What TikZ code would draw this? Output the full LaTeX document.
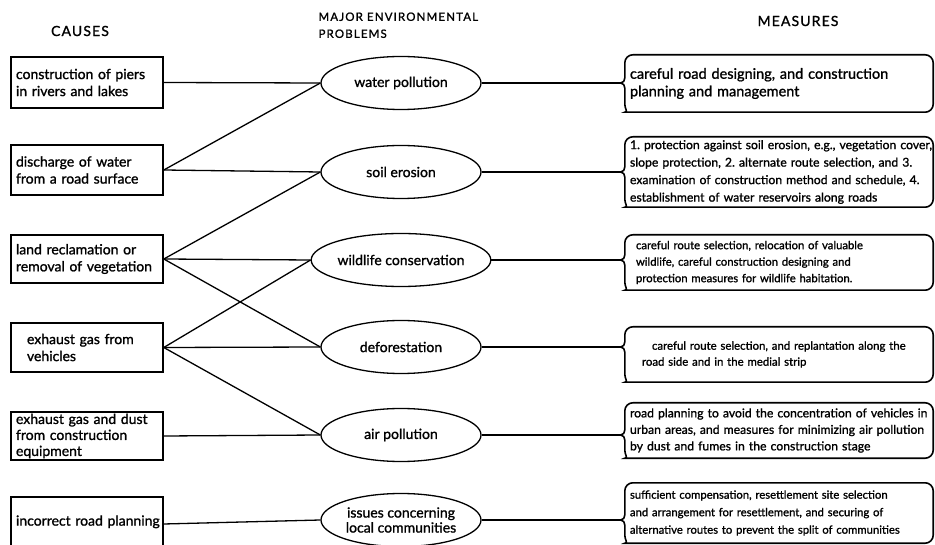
\documentclass[tikz,border=0pt]{standalone}
\usepackage{fontspec}
\setmainfont{Lato}[FakeBold=1.2]
\usetikzlibrary{shapes.geometric,calc}

\tikzset{
  causebox/.style={draw, line width=1.6pt, rectangle, minimum width=152pt,
    text width=142pt, inner xsep=5pt, inner ysep=0pt, align=left,
    font=\fontsize{14}{17}\selectfont},
  problem/.style={draw, line width=1.3pt, ellipse, minimum width=160pt,
    minimum height=53pt, inner sep=0pt, align=center,
    font=\fontsize{14}{16}\selectfont},
  measure/.style={rectangle, minimum width=308pt, text width=298pt,
    inner xsep=5pt, inner ysep=0pt, align=left},
  frame/.style={line width=1.6pt},
  link/.style={line width=1.3pt},
  heading/.style={font=\fontsize{14}{16}\selectfont\addfontfeatures{LetterSpace=8}},
}

% outline of a measure box: rounded on the right, a brace on the left
% whose tip sits level with the problem it answers
\newcommand\measureframe[2]{%
  \coordinate (tip#1) at ($(#1.west |- #2.center)+(-4pt,0)$);
  \draw[frame, rounded corners=8pt]
    ([xshift=8pt]#1.north west) -- (#1.north east) -- (#1.south east)
    -- ([xshift=8pt]#1.south west)
    [sharp corners] to[out=180,in=-90] ([yshift=8pt]#1.south west)
    -- ($(#1.west |- #2.center)+(0,-5pt)$) to[out=90,in=0] (tip#1)
    to[out=0,in=-90] ($(#1.west |- #2.center)+(0,5pt)$)
    -- ([yshift=-8pt]#1.north west) to[out=90,in=180] ([xshift=8pt]#1.north west);
}

\begin{document}
\begin{tikzpicture}[x=1pt, y=-1pt]
\useasboundingbox (0,0) rectangle (935,545);
\fill[white] (0,0) rectangle (935,545);

% column headings
\node[heading] (hc) at (80,31) {CAUSES};
\node[font=\fontsize{11.5}{17}\selectfont\addfontfeatures{LetterSpace=10}, align=left, anchor=north west] (hp)
  at (315,9) {MAJOR ENVIRONMENTAL\\PROBLEMS};
\node[heading] (hm) at (798,21) {MEASURES};

% causes
\node[causebox, minimum height=51pt] (c1) at (87,82.5)
  {construction of piers\\in rivers and lakes};
\node[causebox, minimum height=50pt] (c2) at (87,170)
  {discharge of water\\from a road surface};
\node[causebox, minimum height=48pt] (c3) at (87,259)
  {land reclamation or\\removal of vegetation};
\node[causebox, minimum height=49pt] (c4) at (87,347.5)
  {\hspace*{11pt}exhaust gas from\\\hspace*{11pt}vehicles};
\node[causebox, minimum height=48pt, font=\fontsize{14}{16}\selectfont] (c5) at (87,436)
  {exhaust gas and dust\\from construction\\equipment};
\node[causebox, minimum height=54pt] (c6) at (87,524)
  {\raisebox{7pt}{\makebox[142pt][l]{incorrect road planning}}};

% major environmental problems
\node[problem] (p1) at (401,83) {water pollution};
\node[problem] (p2) at (401,172) {soil erosion};
\node[problem] (p3) at (401,260) {wildlife conservation};
\node[problem] (p4) at (401,347) {deforestation};
\node[problem] (p5) at (401,435) {air pollution};
\node[problem, font=\fontsize{14}{15}\selectfont] (p6) at (401,520)
  {issues concerning\\local communities};

% measures
\node[measure, minimum height=57pt, font=\fontsize{14.5}{17.5}\selectfont] (m1) at (779,83.5)
  {careful road designing, and construction\\planning and management};
\node[measure, minimum height=70pt, font=\fontsize{12.2}{17.5}\selectfont] (m2) at (779,172)
  {\mbox{1.\ protection against soil erosion, e.g.,\ vegetation cover,}\\
   \mbox{slope protection, 2.\ alternate route selection, and 3.}\\
   \mbox{examination of construction method and schedule, 4.}\\
   \mbox{establishment of water reservoirs along roads}};
\node[measure, minimum height=55pt, font=\fontsize{11.3}{16.5}\selectfont] (m3) at (779,262.5)
  {\hspace*{6pt}careful route selection, relocation of valuable\\
   \hspace*{6pt}wildlife, careful construction designing and\\
   \hspace*{6pt}protection measures for wildlife habitation.};
\node[measure, minimum height=55pt, font=\fontsize{11.4}{16}\selectfont] (m4) at (779,354.5)
  {\hspace*{22pt}careful route selection, and replantation along the\\
   \hspace*{12pt}road side and in the medial strip};
\node[measure, minimum height=55pt, font=\fontsize{12.2}{16.5}\selectfont] (m5) at (779,430.5)
  {road planning to avoid the concentration of vehicles in\\
   urban areas, and measures for minimizing air pollution\\
   by dust and fumes in the construction stage};
\node[measure, minimum height=60pt, font=\fontsize{11.3}{17.5}\selectfont] (m6) at (779,513)
  {sufficient compensation, resettlement site selection\\
   and arrangement for resettlement, and securing of\\
   alternative routes to prevent the split of communities};

\measureframe{m1}{p1}
\measureframe{m2}{p2}
\measureframe{m3}{p3}
\measureframe{m4}{p4}
\measureframe{m5}{p5}
\measureframe{m6}{p6}

% causes to problems
\draw[link] (c1.east) -- (p1.west);
\draw[link] (c2.east) -- (p1.west);
\draw[link] (c2.east) -- (p2.west);
\draw[link] (c3.east) -- (p2.west);
\draw[link] (c3.east) -- (p3.west);
\draw[link] (c3.east) -- (p4.west);
\draw[link] (c4.east) -- (p3.west);
\draw[link] (c4.east) -- (p4.west);
\draw[link] (c4.east) -- (p5.west);
\draw[link] (c5.east) -- (p5.west);
\draw[link] (c6.east) -- (p6.west);

% problems to measures
\foreach \i in {1,...,6} \draw[link] (p\i.east) -- (tipm\i);
\end{tikzpicture}
\end{document}
